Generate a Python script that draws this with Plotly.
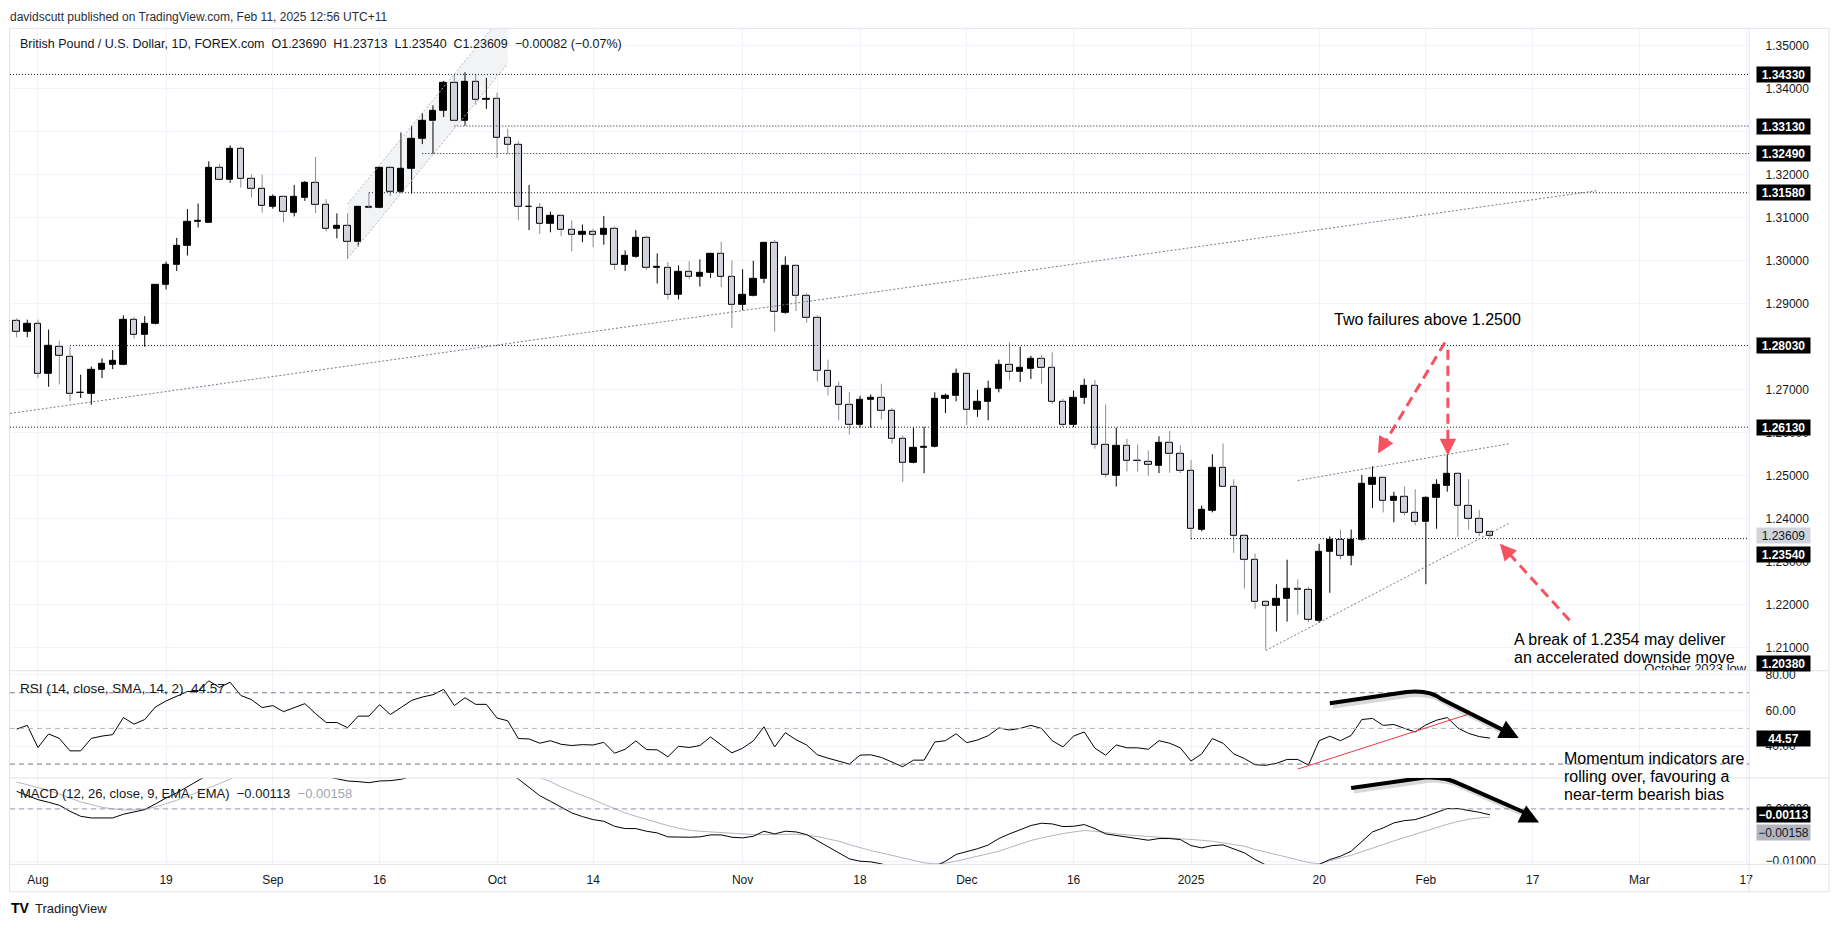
import plotly.graph_objects as go
import pandas as pd

FIG_W, FIG_H = 1835, 931

# ---------------- data (GBP/USD daily, FOREX.com) ----------------
trading_days = pd.bdate_range("2024-07-30", "2025-03-17")
trading_days = trading_days[~trading_days.isin(pd.to_datetime(["2024-12-25", "2025-01-01"]))]
day_index = {d.strftime("%Y-%m-%d"): i - 2 for i, d in enumerate(trading_days)}

opens = [1.2860, 1.2835, 1.2854, 1.2738, 1.2800, 1.2777, 1.2692, 1.2691, 1.2746, 1.2759,
         1.2758, 1.2863, 1.2827, 1.2854, 1.2944, 1.2990, 1.3034, 1.3090, 1.3089, 1.3217,
         1.3187, 1.3261, 1.3191, 1.3168, 1.3126, 1.3148, 1.3112, 1.3147, 1.3180, 1.3129,
         1.3074, 1.3081, 1.3043, 1.3125, 1.3124, 1.3217, 1.3160, 1.3214, 1.3284, 1.3324,
         1.3348, 1.3414, 1.3326, 1.3416, 1.3374, 1.3376, 1.3285, 1.3270, 1.3125, 1.3124,
         1.3085, 1.3104, 1.3071, 1.3060, 1.3067, 1.3060, 1.3074, 1.2990, 1.3010, 1.3053,
         1.2984, 1.2984, 1.2921, 1.2975, 1.2962, 1.2971, 1.3016, 1.2962, 1.2898, 1.2918,
         1.2957, 1.3041, 1.2879, 1.2987, 1.2919, 1.2868, 1.2745, 1.2706, 1.2664, 1.2618,
         1.2676, 1.2681, 1.2652, 1.2586, 1.2530, 1.2565, 1.2567, 1.2679, 1.2685, 1.2736,
         1.2654, 1.2672, 1.2702, 1.2758, 1.2741, 1.2749, 1.2771, 1.2750, 1.2672, 1.2618,
         1.2681, 1.2709, 1.2572, 1.2500, 1.2569, 1.2535, 1.2533, 1.2523, 1.2576, 1.2550,
         1.2512, 1.2375, 1.2419, 1.2519, 1.2475, 1.2360, 1.2305, 1.2206, 1.2198, 1.2213,
         1.2237, 1.2236, 1.2163, 1.2323, 1.2352, 1.2314, 1.2350, 1.2479, 1.2496, 1.2441,
         1.2450, 1.2415, 1.2392, 1.2448, 1.2477, 1.2504, 1.2431, 1.2400, 1.23690]
highs = [1.2866, 1.2863, 1.2863, 1.2840, 1.2814, 1.2800, 1.2735, 1.2754, 1.2773, 1.2792,
         1.2873, 1.2869, 1.2871, 1.2946, 1.2998, 1.3053, 1.3120, 1.3133, 1.3231, 1.3225,
         1.3268, 1.3266, 1.3200, 1.3200, 1.3154, 1.3150, 1.3176, 1.3185, 1.3241, 1.3143,
         1.3110, 1.3110, 1.3127, 1.3158, 1.3218, 1.3219, 1.3298, 1.3314, 1.3343, 1.3361,
         1.3418, 1.3432, 1.3438, 1.3432, 1.3425, 1.3391, 1.3307, 1.3278, 1.3176, 1.3134,
         1.3114, 1.3106, 1.3094, 1.3084, 1.3074, 1.3104, 1.3080, 1.3024, 1.3071, 1.3058,
         1.3017, 1.2997, 1.2989, 1.2999, 1.3003, 1.3018, 1.3044, 1.3000, 1.2980, 1.3000,
         1.3042, 1.3048, 1.3010, 1.2991, 1.2925, 1.2873, 1.2770, 1.2719, 1.2695, 1.2686,
         1.2689, 1.2714, 1.2658, 1.2594, 1.2612, 1.2614, 1.2694, 1.2691, 1.2749, 1.2737,
         1.2700, 1.2721, 1.2770, 1.2810, 1.2800, 1.2779, 1.2781, 1.2787, 1.2679, 1.2698,
         1.2726, 1.2723, 1.2666, 1.2612, 1.2586, 1.2573, 1.2559, 1.2592, 1.2604, 1.2571,
         1.2537, 1.2431, 1.2550, 1.2575, 1.2492, 1.2365, 1.2319, 1.2211, 1.2248, 1.2305,
         1.2259, 1.2242, 1.2342, 1.2359, 1.2375, 1.2375, 1.2502, 1.2522, 1.2498, 1.2463,
         1.2475, 1.2469, 1.2452, 1.2492, 1.2550, 1.2508, 1.2492, 1.2421, 1.23713]
lows = [1.2822, 1.2822, 1.2727, 1.2707, 1.2712, 1.2673, 1.2681, 1.2665, 1.2727, 1.2748,
        1.2757, 1.2819, 1.2800, 1.2852, 1.2933, 1.2976, 1.3012, 1.3077, 1.3089, 1.3186,
        1.3181, 1.3170, 1.3147, 1.3112, 1.3121, 1.3089, 1.3103, 1.3139, 1.3111, 1.3068,
        1.3052, 1.3004, 1.3033, 1.3122, 1.3122, 1.3150, 1.3158, 1.3156, 1.3271, 1.3248,
        1.3334, 1.3325, 1.3314, 1.3362, 1.3353, 1.3239, 1.3248, 1.3094, 1.3071, 1.3062,
        1.3066, 1.3057, 1.3022, 1.3043, 1.3031, 1.3037, 1.2979, 1.2976, 1.3007, 1.2979,
        1.2947, 1.2910, 1.2910, 1.2957, 1.2940, 1.2960, 1.2939, 1.2844, 1.2885, 1.2917,
        1.2948, 1.2835, 1.2877, 1.2883, 1.2856, 1.2719, 1.2687, 1.2629, 1.2596, 1.2612,
        1.2612, 1.2631, 1.2575, 1.2486, 1.2529, 1.2506, 1.2566, 1.2646, 1.2673, 1.2618,
        1.2637, 1.2629, 1.2694, 1.2722, 1.2718, 1.2725, 1.2714, 1.2667, 1.2613, 1.2613,
        1.2667, 1.2563, 1.2496, 1.2475, 1.2510, 1.2510, 1.2500, 1.2506, 1.2507, 1.2506,
        1.2352, 1.2371, 1.2415, 1.2474, 1.2321, 1.2238, 1.2191, 1.2096, 1.2138, 1.2161,
        1.2177, 1.2160, 1.2158, 1.2228, 1.2306, 1.2292, 1.2348, 1.2425, 1.2415, 1.2392,
        1.2408, 1.2385, 1.2248, 1.2377, 1.2463, 1.2358, 1.2375, 1.2360, 1.23540]
closes = [1.2835, 1.2854, 1.2738, 1.2802, 1.2778, 1.2691, 1.2693, 1.2746, 1.2760, 1.2767,
          1.2863, 1.2827, 1.2854, 1.2944, 1.2990, 1.3034, 1.3090, 1.3092, 1.3217, 1.3187,
          1.3261, 1.3191, 1.3168, 1.3127, 1.3148, 1.3114, 1.3148, 1.3180, 1.3130, 1.3074,
          1.3081, 1.3044, 1.3125, 1.3124, 1.3217, 1.3160, 1.3214, 1.3284, 1.3324, 1.3348,
          1.3414, 1.3326, 1.3416, 1.3374, 1.3376, 1.3285, 1.3270, 1.3125, 1.3126, 1.3085,
          1.3104, 1.3071, 1.3061, 1.3067, 1.3060, 1.3075, 1.2990, 1.3012, 1.3053, 1.2984,
          1.2985, 1.2921, 1.2975, 1.2963, 1.2972, 1.3016, 1.2962, 1.2898, 1.2920, 1.2958,
          1.3041, 1.2880, 1.2987, 1.2919, 1.2868, 1.2745, 1.2706, 1.2664, 1.2618, 1.2677,
          1.2681, 1.2652, 1.2586, 1.2531, 1.2566, 1.2567, 1.2679, 1.2686, 1.2736, 1.2654,
          1.2672, 1.2702, 1.2758, 1.2741, 1.2750, 1.2772, 1.2750, 1.2672, 1.2618, 1.2681,
          1.2709, 1.2572, 1.2502, 1.2569, 1.2535, 1.2534, 1.2525, 1.2576, 1.2550, 1.2512,
          1.2377, 1.2422, 1.2519, 1.2475, 1.2360, 1.2305, 1.2206, 1.2198, 1.2213, 1.2238,
          1.2236, 1.2165, 1.2323, 1.2352, 1.2314, 1.2352, 1.2481, 1.2496, 1.2441, 1.2450,
          1.2415, 1.2392, 1.2448, 1.2478, 1.2504, 1.2431, 1.2400, 1.2367, 1.23609]

rsi_values = [49.6, 51.7, 39.3, 46.9, 44.4, 37.4, 37.4, 44.4, 45.7, 46.5, 56.1, 52.4,
              55.0, 62.0, 65.4, 68.1, 70.7, 70.7, 76.7, 73.0, 75.9, 68.5,
              66.1, 61.7, 62.8, 59.4, 61.7, 63.9, 58.3, 53.3, 53.3, 50.4,
              56.9, 56.9, 63.3, 57.8, 61.7, 65.7, 67.6, 68.9, 71.9, 62.8,
              67.2, 63.5, 63.5, 55.8, 54.3, 44.3, 44.1, 41.7, 43.1, 41.1,
              40.4, 40.9, 40.7, 42.2, 36.1, 38.3, 43.0, 38.1, 38.0, 34.1,
              40.0, 39.3, 40.4, 45.2, 40.7, 36.3, 38.9, 43.0, 50.9, 39.6,
              47.6, 43.7, 40.7, 35.2, 33.3, 31.7, 30.0, 35.0, 35.2, 33.7,
              30.9, 28.5, 32.2, 32.2, 42.4, 43.1, 47.0, 42.0, 43.5, 45.9,
              50.3, 49.1, 50.0, 51.7, 50.0, 43.1, 39.6, 45.7, 48.0, 38.9,
              35.0, 40.7, 39.1, 39.1, 38.3, 43.1, 41.7, 39.1, 31.7, 35.7,
              44.3, 41.7, 35.7, 33.1, 29.6, 29.3, 30.4, 32.6, 32.6, 29.4,
              43.1, 45.6, 43.1, 46.1, 55.0, 55.6, 51.7, 52.2, 50.0, 48.0,
              52.0, 54.6, 56.1, 50.2, 47.2, 45.4, 44.57]

macd_values = [0.00337, 0.00261, 0.00178, 0.00127, 0.00070, -0.00045, -0.00140, -0.00172, -0.00178, -0.00172, -0.00102, -0.00064,
               -0.00013, 0.00095, 0.00210, 0.00305, 0.00432, 0.00560, 0.0068, 0.0078, 0.0088, 0.0093,
               0.0097, 0.0099, 0.0096, 0.0090, 0.0082, 0.0073, 0.0066, 0.0062, 0.0058, 0.00534,
               0.00522, 0.00502, 0.00534, 0.00540, 0.00566, 0.0062, 0.0067, 0.0074, 0.0083, 0.0084,
               0.0089, 0.0090, 0.0089, 0.0081, 0.0070, 0.00572, 0.00413, 0.00254, 0.00146, 0.00038,
               -0.00076, -0.00146, -0.00204, -0.00235, -0.00331, -0.00375, -0.00375, -0.00426, -0.00458, -0.00534,
               -0.00541, -0.00541, -0.00534, -0.00496, -0.00496, -0.00541, -0.00553, -0.00522, -0.00426, -0.00477,
               -0.00426, -0.00439, -0.00490, -0.00604, -0.00712, -0.00827, -0.00954, -0.00999, -0.01011, -0.01049,
               -0.0112, -0.0118, -0.0121, -0.0120, -0.0110, -0.0100, -0.0087, -0.0082, -0.0076, -0.0069,
               -0.00566, -0.00477, -0.00394, -0.00318, -0.00273, -0.00286, -0.00337, -0.00331, -0.00299, -0.00375,
               -0.00477, -0.00509, -0.00541, -0.00566, -0.00598, -0.00566, -0.00566, -0.00585, -0.00700, -0.00744,
               -0.00700, -0.00687, -0.00757, -0.00840, -0.00967, -0.0107, -0.0113, -0.0117, -0.0119, -0.0120,
               -0.0106, -0.00967, -0.00903, -0.00808, -0.00617, -0.00439, -0.00363, -0.00267, -0.00223, -0.00204,
               -0.00140, -0.00070, 0.00006, 0.00006, -0.00025, -0.00064, -0.00113]

signal_values = [0.00515, 0.00464, 0.00413, 0.00356, 0.00286, 0.00210, 0.00134, 0.00083, 0.00032, 0.0, -0.00019, -0.00019,
                 0.0, 0.00038, 0.00095, 0.00165, 0.00242, 0.00318, 0.00401, 0.00483, 0.00572, 0.0066,
                 0.0072, 0.0078, 0.0082, 0.0084, 0.0085, 0.0083, 0.0080, 0.0077, 0.0074, 0.0071,
                 0.0068, 0.0065, 0.0063, 0.0062, 0.0062, 0.0062, 0.0063, 0.0065, 0.0069, 0.0072,
                 0.0075, 0.0078, 0.0080, 0.0080, 0.0078, 0.0073, 0.0067, 0.0060, 0.00522, 0.00420,
                 0.00337, 0.00261, 0.00178, 0.00089, 0.00006, -0.00076, -0.00140, -0.00204, -0.00267, -0.00318,
                 -0.00369, -0.00407, -0.00426, -0.00439, -0.00458, -0.00471, -0.00484, -0.00490, -0.00490, -0.00484,
                 -0.00477, -0.00484, -0.00502, -0.00528, -0.00572, -0.00617, -0.00681, -0.00744, -0.00795, -0.00840,
                 -0.00884, -0.00935, -0.00979, -0.01030, -0.01049, -0.01037, -0.00999, -0.00954, -0.00903, -0.00865,
                 -0.00808, -0.00738, -0.00668, -0.00604, -0.00553, -0.00509, -0.00471, -0.00439, -0.00413, -0.00426,
                 -0.00458, -0.00477, -0.00496, -0.00509, -0.00522, -0.00534, -0.00547, -0.00560, -0.00579, -0.00598,
                 -0.00617, -0.00649, -0.00681, -0.00712, -0.00776, -0.00820, -0.00871, -0.00922, -0.00973, -0.01024,
                 -0.01049, -0.00999, -0.00935, -0.00884, -0.00820, -0.00750, -0.00681, -0.00611, -0.00547, -0.00483,
                 -0.00420, -0.00356, -0.00293, -0.00242, -0.00197, -0.00172, -0.00158]

tick_dates = ["2024-08-01", "2024-08-19", "2024-09-02", "2024-09-16", "2024-10-01", "2024-10-14",
              "2024-11-01", "2024-11-18", "2024-12-02", "2024-12-16", "2025-01-02", "2025-01-20",
              "2025-02-03", "2025-02-17", "2025-03-03", "2025-03-17"]
tick_labels = ["Aug", "19", "Sep", "16", "Oct", "14", "Nov", "18", "Dec", "16", "2025", "20",
               "Feb", "17", "Mar", "17"]

price_ticks = [1.35, 1.34, 1.33, 1.32, 1.31, 1.30, 1.29, 1.28, 1.27, 1.26, 1.25, 1.24, 1.23, 1.22, 1.21]
price_ticks_hidden = [1.33, 1.28]
rsi_ticks = [80, 60, 40]
macd_ticks = [0.0, -0.01]

levels = [1.3433, 1.3313, 1.3249, 1.3158, 1.2803, 1.2613, 1.2354]
level_starts = ["2024-07-29", "2024-09-25", "2024-09-20", "2024-09-13", "2024-08-06", "2024-07-29", "2025-01-02"]
low_oct_2023 = 1.2038

# ---------------- layout geometry (pixels) ----------------
PLOT_L, PLOT_R = 10, 1753
PRICE_T, PRICE_B, RSI_B, MACD_B = 27, 673, 781, 868
X_RANGE = [-2.62, 160.28]
PRICE_RANGE = [1.2047, 1.3539]
RSI_RANGE = [22.2, 82.4]
MACD_RANGE = [-0.0106, 0.00592]

FONT = "Liberation Sans, Arial, sans-serif"
TXT = "#131722"
GRID = "#f0f3fa"
SEP = "#e0e3eb"


def px(v):
    return v / FIG_W


def py(v):
    return 1 - v / FIG_H


n = len(closes)
xs = list(range(-2, n - 2))
start_idx = lambda d: day_index.get(d, X_RANGE[0])

fig = go.Figure()

# wicks
up_wx, up_wy, dn_wx, dn_wy = [], [], [], []
for xi, o, h, l, c in zip(xs, opens, highs, lows, closes):
    top, bot = max(o, c), min(o, c)
    tx, ty = (up_wx, up_wy) if c >= o else (dn_wx, dn_wy)
    tx += [xi, xi, None, xi, xi, None]
    ty += [h, top, None, bot, l, None]

fig.add_trace(go.Bar(
    x=xs, y=[max(abs(c - o), 0.00003) for o, c in zip(opens, closes)],
    base=[min(o, c) for o, c in zip(opens, closes)], width=0.6,
    marker=dict(color=["#000000" if c >= o else "#d1d4dc" for o, c in zip(opens, closes)],
                line=dict(color="#000000", width=1)),
    xaxis="x", yaxis="y", hoverinfo="skip"))
fig.add_trace(go.Scatter(x=dn_wx, y=dn_wy, mode="lines", line=dict(color="#8a8d96", width=1),
                         xaxis="x", yaxis="y", hoverinfo="skip"))
fig.add_trace(go.Scatter(x=up_wx, y=up_wy, mode="lines", line=dict(color="#000000", width=1),
                         xaxis="x", yaxis="y", hoverinfo="skip"))

# "October 2023 low" label (clipped by pane)
fig.add_trace(go.Scatter(x=[160.0], y=[1.2050], mode="text", text=["October 2023 low"],
                         textposition="middle left", textfont=dict(family=FONT, size=13, color=TXT),
                         cliponaxis=True, xaxis="x", yaxis="y", hoverinfo="skip"))

# RSI
fig.add_trace(go.Scatter(x=xs, y=rsi_values, mode="lines", line=dict(color="#000000", width=1),
                         xaxis="x2", yaxis="y2", hoverinfo="skip"))
# MACD
fig.add_trace(go.Scatter(x=xs, y=signal_values, mode="lines", line=dict(color="#b2b5be", width=1),
                         xaxis="x3", yaxis="y3", hoverinfo="skip"))
fig.add_trace(go.Scatter(x=xs, y=macd_values, mode="lines", line=dict(color="#000000", width=1),
                         xaxis="x3", yaxis="y3", hoverinfo="skip"))

tickvals = [day_index[d] for d in tick_dates]
axfont = dict(family=FONT, size=12, color=TXT)
xcommon = dict(range=X_RANGE, domain=[px(PLOT_L), px(PLOT_R)], tickvals=tickvals, showgrid=True,
               gridcolor=GRID, zeroline=False, showline=False, ticks="")
ycommon = dict(side="right", showgrid=True, gridcolor=GRID, zeroline=False, showline=False,
               ticks="outside", ticklen=13, tickcolor="rgba(0,0,0,0)", tickfont=axfont)

fig.update_layout(
    width=FIG_W, height=FIG_H, margin=dict(l=0, r=0, t=0, b=0),
    paper_bgcolor="white", plot_bgcolor="white", showlegend=False, bargap=0,
    xaxis=dict(anchor="y", showticklabels=False, **xcommon),
    xaxis2=dict(anchor="y2", matches="x", showticklabels=False, **xcommon),
    xaxis3=dict(anchor="y3", matches="x", showticklabels=True, ticktext=tick_labels, tickfont=axfont,
                **{**xcommon, "ticks": "outside"}, ticklen=4, tickcolor="rgba(0,0,0,0)"),
    yaxis=dict(anchor="x", domain=[py(PRICE_B), py(PRICE_T)], range=PRICE_RANGE, tickvals=price_ticks,
               ticktext=["" if t in price_ticks_hidden else f"{t:.5f}" for t in price_ticks], **ycommon),
    yaxis2=dict(anchor="x2", domain=[py(RSI_B), py(PRICE_B)], range=RSI_RANGE, tickvals=rsi_ticks,
                ticktext=[f"{t:.2f}" for t in rsi_ticks], **ycommon),
    yaxis3=dict(anchor="x3", domain=[py(MACD_B), py(RSI_B)], range=MACD_RANGE, tickvals=macd_ticks,
                ticktext=["0.00000", "\u22120.01000"], **ycommon),
)

shapes = []
# frame and pane separators
shapes.append(dict(type="rect", xref="paper", yref="paper", x0=px(9.5), x1=px(1833), y0=py(895.5), y1=py(26.5),
                   line=dict(color=SEP, width=1), layer="below"))
for yy in (PRICE_B, RSI_B, MACD_B):
    shapes.append(dict(type="line", xref="paper", yref="paper", x0=px(9.5), x1=px(1833), y0=py(yy), y1=py(yy),
                       line=dict(color=SEP, width=1)))
shapes.append(dict(type="line", xref="paper", yref="paper", x0=px(PLOT_R), x1=px(PLOT_R), y0=py(895.5), y1=py(26.5),
                   line=dict(color=SEP, width=1)))

# RSI bands & MACD zero
for lvl, col in ((70, "#787b86"), (50, "#b2b5be"), (30, "#787b86")):
    shapes.append(dict(type="line", xref="x2", yref="y2", x0=X_RANGE[0], x1=X_RANGE[1], y0=lvl, y1=lvl,
                       line=dict(color=col, width=1, dash="5px,4px")))
shapes.append(dict(type="line", xref="x3", yref="y3", x0=X_RANGE[0], x1=X_RANGE[1], y0=0, y1=0,
                   line=dict(color="#9598a1", width=1, dash="5px,4px")))

# horizontal levels
for lvl, sd in zip(levels, level_starts):
    shapes.append(dict(type="line", xref="x", yref="y", x0=start_idx(sd), x1=X_RANGE[1], y0=lvl, y1=lvl,
                       line=dict(color="#131722", width=1, dash="1px,2px")))

# long rising trendline
shapes.append(dict(type="line", xref="x", yref="y", x0=-2.62, y0=1.2645, x1=146.1, y1=1.3163,
                   line=dict(color="#787b86", width=1, dash="2px,2px")))
# shaded channel (Sep rally)
ch = dict(x0=29.0, x1=44.0, lo0=1.3005, lo1=1.3458, hi0=1.3132, hi1=1.3585)
shapes.append(dict(type="path", xref="x", yref="y",
                   path=f"M {ch['x0']},{ch['lo0']} L {ch['x1']},{ch['lo1']} L {ch['x1']},{ch['hi1']} L {ch['x0']},{ch['hi0']} Z",
                   fillcolor="rgba(209,212,220,0.28)", line=dict(width=0), layer="below"))
for a, b in (("lo0", "lo1"), ("hi0", "hi1")):
    shapes.append(dict(type="line", xref="x", yref="y", x0=ch["x0"], x1=ch["x1"], y0=ch[a], y1=ch[b],
                       line=dict(color="#b2b5be", width=1, dash="2px,2px")))
# wedge
shapes.append(dict(type="line", xref="x", yref="y", x0=118.0, y0=1.2489, x1=137.9, y1=1.2575,
                   line=dict(color="#787b86", width=1, dash="2px,2px")))
shapes.append(dict(type="line", xref="x", yref="y", x0=115.0, y0=1.2094, x1=137.9, y1=1.2391,
                   line=dict(color="#787b86", width=1, dash="2px,2px")))

# red dashed arrows
RED = "#f7525f"
red_arrows = [((131.78, 1.2810), (125.7, 1.2558)), ((132.06, 1.2793), (132.06, 1.2553)),
              ((143.46, 1.2164), (137.1, 1.2338))]
for (tx, ty), (hx, hy) in red_arrows:
    shapes.append(dict(type="line", xref="x", yref="y", x0=tx, y0=ty, x1=hx, y1=hy,
                       line=dict(color=RED, width=3, dash="10px,6px")))

# red RSI trendline
shapes.append(dict(type="line", xref="x2", yref="y2", x0=118.0, y0=27.2, x1=133.9, y1=57.8,
                   line=dict(color="#f23645", width=1)))

# black curved arrows (with soft shadow)
def curve(pts, xr, yr, dx, dy, color, width):
    (x0, y0), (x1, y1), (cx, cy), (x2, y2), (x3, y3) = pts
    p = (f"M {x0+dx},{y0+dy} L {x1+dx},{y1+dy} Q {cx+dx},{cy+dy} {x2+dx},{y2+dy} "
         f"L {x3+dx},{y3+dy}")
    return dict(type="path", xref=xr, yref=yr, path=p, line=dict(color=color, width=width))

rsi_curve = [(121.0, 64.1), (128.2, 70.4), (130.3, 71.8), (131.5, 66.3), (138.0, 46.8)]
macd_curve = [(123.0, 0.00401), (129.9, 0.00600), (131.8, 0.00622), (133.1, 0.00483), (139.9, -0.00128)]
shapes.append(curve(rsi_curve, "x2", "y2", 0.25, -1.7, "rgba(0,0,0,0.15)", 5))
shapes.append(curve(rsi_curve, "x2", "y2", 0, 0, "#000000", 4))
shapes.append(curve(macd_curve, "x3", "y3", 0.25, -0.00057, "rgba(0,0,0,0.15)", 5))
shapes.append(curve(macd_curve, "x3", "y3", 0, 0, "#000000", 4))

fig.update_layout(shapes=shapes)

ann = []


def text_ann(t, x, y, size=12, color=TXT, xanchor="left", yanchor="middle"):
    ann.append(dict(xref="paper", yref="paper", x=px(x), y=py(y), text=t, showarrow=False,
                    xanchor=xanchor, yanchor=yanchor, font=dict(family=FONT, size=size, color=color)))


text_ann("davidscutt published on TradingView.com, Feb 11, 2025 12:56 UTC+11", 8, 15, size=12, color="#2a2e39")
text_ann("British Pound / U.S. Dollar, 1D, FOREX.com&nbsp;&nbsp;O1.23690&nbsp;&nbsp;H1.23713&nbsp;&nbsp;"
         "L1.23540&nbsp;&nbsp;C1.23609&nbsp;&nbsp;\u22120.00082 (\u22120.07%)", 18, 42, size=12.5)
text_ann("RSI (14, close, SMA, 14, 2)&nbsp;&nbsp;44.57", 18, 691, size=13.5)
text_ann("MACD (12, 26, close, 9, EMA, EMA)&nbsp;&nbsp;\u22120.00113&nbsp;&nbsp;"
         "<span style='color:#a3a6af'>\u22120.00158</span>", 18, 797, size=13)
text_ann("Two failures above 1.2500", 1335, 320, size=16, color="#000000")
text_ann("A break of 1.2354 may deliver", 1515, 642, size=16, color="#000000")
text_ann("an accelerated downside move", 1515, 660, size=16, color="#000000")
text_ann("Momentum indicators are", 1565, 761, size=16, color="#000000")
text_ann("rolling over, favouring a", 1565, 779.5, size=16, color="#000000")
text_ann("near-term bearish bias", 1565, 798, size=16, color="#000000")
text_ann("<b>TV</b>", 9, 912, size=14, color="#000000")
text_ann("TradingView", 33, 912, size=13, color="#131722")


def axis_box(text, yref, y, bg, fg, yshift=0, bold=True):
    ann.append(dict(xref="paper", x=px(1760), xanchor="left", yref=yref, y=y, yanchor="middle",
                    yshift=yshift, text=f"<b>{text}</b>" if bold else text, showarrow=False,
                    bgcolor=bg, width=53, height=15, borderpad=0, align="center",
                    font=dict(family=FONT, size=12, color=fg)))


for lvl in levels:
    axis_box(f"{lvl:.5f}", "y", lvl, "#000000", "#ffffff", yshift=(-16 if lvl == 1.2354 else 0))
axis_box(f"{closes[-1]:.5f}", "y", closes[-1], "#d1d4dc", TXT, bold=False)
axis_box(f"{low_oct_2023:.5f}", "y", 1.2048, "#000000", "#ffffff", yshift=7)
axis_box(f"{rsi_values[-1]:.2f}", "y2", rsi_values[-1], "#000000", "#ffffff")
axis_box(f"\u2212{abs(macd_values[-1]):.5f}", "y3", macd_values[-1], "#000000", "#ffffff")
axis_box(f"\u2212{abs(signal_values[-1]):.5f}", "y3", signal_values[-1], "#b2b5be", TXT, yshift=-15, bold=False)

# arrowheads
def head(xr, yr, x, y, ax, ay, color, w):
    ann.append(dict(xref=xr, yref=yr, x=x, y=y, ax=ax, ay=ay, axref="pixel", ayref="pixel", text="",
                    showarrow=True, arrowhead=2, arrowsize=1.1, arrowwidth=w, arrowcolor=color))


head("x", "y", 125.51, 1.2552, 7, -12, RED, 3)
head("x", "y", 132.06, 1.2548, 0, -14, RED, 3)
head("x", "y", 136.92, 1.2342, 9, 10, RED, 3)
head("x2", "y2", 138.7, 44.6, -12, -6, "#000000", 3.5)
head("x3", "y3", 140.6, -0.00261, -12, -6, "#000000", 3.5)

fig.update_layout(annotations=ann)

fig.write_html("out.html")
